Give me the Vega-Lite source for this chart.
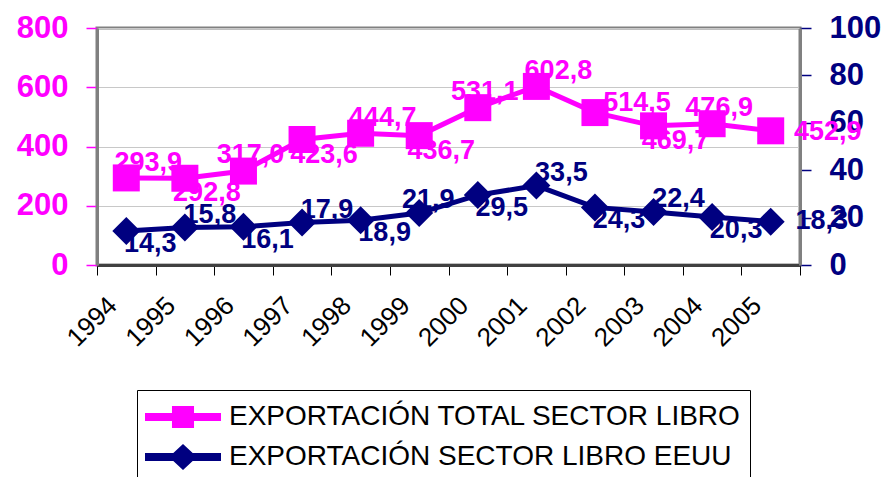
{
  "$schema": "https://vega.github.io/schema/vega-lite/v6.json",
  "width": 703,
  "height": 237,
  "autosize": {"type": "none"},
  "padding": {"left": 97, "top": 28, "right": 90, "bottom": 212},
  "background": "white",
  "config": {
    "locale": {"number": {"decimal": ",", "thousands": ".", "grouping": [3], "currency": ["", " €"]}},
    "view": {"stroke": "#808080", "strokeWidth": 3},
    "font": "Liberation Sans",
    "style": {"guide-label": {"fontWeight": 700, "font": "Liberation Sans"}},
    "axis": {"labelFontWeight": 700}
  },
  "data": {
    "values": [
      {"year": "1994", "series": "EXPORTACIÓN TOTAL SECTOR LIBRO", "value": 293.9},
      {"year": "1995", "series": "EXPORTACIÓN TOTAL SECTOR LIBRO", "value": 292.8},
      {"year": "1996", "series": "EXPORTACIÓN TOTAL SECTOR LIBRO", "value": 317.0},
      {"year": "1997", "series": "EXPORTACIÓN TOTAL SECTOR LIBRO", "value": 423.6},
      {"year": "1998", "series": "EXPORTACIÓN TOTAL SECTOR LIBRO", "value": 444.7},
      {"year": "1999", "series": "EXPORTACIÓN TOTAL SECTOR LIBRO", "value": 436.7},
      {"year": "2000", "series": "EXPORTACIÓN TOTAL SECTOR LIBRO", "value": 531.1},
      {"year": "2001", "series": "EXPORTACIÓN TOTAL SECTOR LIBRO", "value": 602.8},
      {"year": "2002", "series": "EXPORTACIÓN TOTAL SECTOR LIBRO", "value": 514.5},
      {"year": "2003", "series": "EXPORTACIÓN TOTAL SECTOR LIBRO", "value": 469.7},
      {"year": "2004", "series": "EXPORTACIÓN TOTAL SECTOR LIBRO", "value": 476.9},
      {"year": "2005", "series": "EXPORTACIÓN TOTAL SECTOR LIBRO", "value": 452.9},
      {"year": "1994", "series": "EXPORTACIÓN SECTOR LIBRO EEUU", "value": 14.3},
      {"year": "1995", "series": "EXPORTACIÓN SECTOR LIBRO EEUU", "value": 15.8},
      {"year": "1996", "series": "EXPORTACIÓN SECTOR LIBRO EEUU", "value": 16.1},
      {"year": "1997", "series": "EXPORTACIÓN SECTOR LIBRO EEUU", "value": 17.9},
      {"year": "1998", "series": "EXPORTACIÓN SECTOR LIBRO EEUU", "value": 18.9},
      {"year": "1999", "series": "EXPORTACIÓN SECTOR LIBRO EEUU", "value": 21.9},
      {"year": "2000", "series": "EXPORTACIÓN SECTOR LIBRO EEUU", "value": 29.5},
      {"year": "2001", "series": "EXPORTACIÓN SECTOR LIBRO EEUU", "value": 33.5},
      {"year": "2002", "series": "EXPORTACIÓN SECTOR LIBRO EEUU", "value": 24.3},
      {"year": "2003", "series": "EXPORTACIÓN SECTOR LIBRO EEUU", "value": 22.4},
      {"year": "2004", "series": "EXPORTACIÓN SECTOR LIBRO EEUU", "value": 20.3},
      {"year": "2005", "series": "EXPORTACIÓN SECTOR LIBRO EEUU", "value": 18.3}
    ]
  },
  "encoding": {
    "x": {
      "field": "year", "type": "ordinal",
      "scale": {"type": "band", "paddingInner": 0, "paddingOuter": 0},
      "axis": {
        "title": null, "labelAngle": -45, "labelFont": "Liberation Sans", "labelFontSize": 26, "labelFontWeight": 400,
        "labelColor": "black", "labelPadding": 26, "labelOffset": -14, "tickBand": "extent",
        "tickSize": 10, "tickColor": "black", "tickWidth": 1, "domainColor": "#404040", "domainWidth": 3,
        "grid": false, "labelAlign": "right", "labelBaseline": "middle"
      }
    }
  },
  "layer": [
    {
      "transform": [{"filter": "datum.series === 'EXPORTACIÓN TOTAL SECTOR LIBRO'"}],
      "encoding": {
        "y": {
          "field": "value", "type": "quantitative",
          "scale": {"domain": [0, 800], "nice": false},
          "axis": {
            "title": null, "orient": "left", "values": [0, 200, 400, 600, 800], "format": "d",
            "labelFont": "Liberation Sans", "labelFontSize": 31, "labelFontWeight": 700, "labelColor": "#FF00FF",
            "labelPadding": 18, "tickSize": 11, "tickColor": "#FF00FF", "tickWidth": 1.5,
            "domainColor": "#808080", "domainWidth": 3,
            "grid": true, "gridColor": "#c8c8c8", "gridWidth": 1
          }
        }
      },
      "layer": [
        {"mark": {"type": "line", "color": "#FF00FF", "strokeWidth": 5}},
        {"mark": {"type": "point", "shape": "square", "filled": true, "opacity": 1, "color": "#FF00FF", "size": 729}},
        {
          "transform": [{"filter": {"field": "year", "oneOf": ["1994", "1998", "2001"]}}],
          "mark": {"type": "text", "color": "#FF00FF", "fontSize": 27, "fontWeight": "bold", "font": "Liberation Sans", "dx": 22, "dy": -15},
          "encoding": {"text": {"field": "value", "type": "quantitative", "format": ".1f"}}
        },
        {
          "transform": [{"filter": {"field": "year", "oneOf": ["1996", "2000", "2004"]}}],
          "mark": {"type": "text", "color": "#FF00FF", "fontSize": 27, "fontWeight": "bold", "font": "Liberation Sans", "dx": 7, "dy": -16},
          "encoding": {"text": {"field": "value", "type": "quantitative", "format": ".1f"}}
        },
        {
          "transform": [{"filter": {"field": "year", "oneOf": ["2002"]}}],
          "mark": {"type": "text", "color": "#FF00FF", "fontSize": 27, "fontWeight": "bold", "font": "Liberation Sans", "dx": 42, "dy": -10},
          "encoding": {"text": {"field": "value", "type": "quantitative", "format": ".1f"}}
        },
        {
          "transform": [{"filter": {"field": "year", "oneOf": ["1995", "1997", "1999", "2003"]}}],
          "mark": {"type": "text", "color": "#FF00FF", "fontSize": 27, "fontWeight": "bold", "font": "Liberation Sans", "dx": 22, "dy": 15},
          "encoding": {"text": {"field": "value", "type": "quantitative", "format": ".1f"}}
        },
        {
          "transform": [{"filter": {"field": "year", "oneOf": ["2005"]}}],
          "mark": {"type": "text", "color": "#FF00FF", "fontSize": 27, "fontWeight": "bold", "font": "Liberation Sans", "dx": 57, "dy": 1},
          "encoding": {"text": {"field": "value", "type": "quantitative", "format": ".1f"}}
        }
      ]
    },
    {
      "transform": [{"filter": "datum.series === 'EXPORTACIÓN SECTOR LIBRO EEUU'"}],
      "encoding": {
        "y": {
          "field": "value", "type": "quantitative",
          "scale": {"domain": [0, 100], "nice": false},
          "axis": {
            "title": null, "orient": "right", "values": [0, 20, 40, 60, 80, 100], "format": "d",
            "labelFont": "Liberation Sans", "labelFontSize": 31, "labelFontWeight": 700, "labelColor": "#000080",
            "labelPadding": 18, "tickSize": 11, "tickColor": "#000080", "tickWidth": 1.5,
            "domainColor": "#808080", "domainWidth": 3, "grid": false
          }
        }
      },
      "layer": [
        {"mark": {"type": "line", "color": "#000080", "strokeWidth": 5}},
        {"mark": {"type": "point", "shape": "diamond", "filled": true, "opacity": 1, "color": "#000080", "size": 784}},
        {
          "transform": [{"filter": {"field": "year", "oneOf": ["1995", "1997", "2001", "2003"]}}],
          "mark": {"type": "text", "color": "#000080", "fontSize": 27, "fontWeight": "bold", "font": "Liberation Sans", "dx": 25, "dy": -13},
          "encoding": {"text": {"field": "value", "type": "quantitative", "format": ".1f"}}
        },
        {
          "transform": [{"filter": {"field": "year", "oneOf": ["1999"]}}],
          "mark": {"type": "text", "color": "#000080", "fontSize": 27, "fontWeight": "bold", "font": "Liberation Sans", "dx": 9, "dy": -13},
          "encoding": {"text": {"field": "value", "type": "quantitative", "format": ".1f"}}
        },
        {
          "transform": [{"filter": {"field": "year", "oneOf": ["1994", "1996", "1998", "2000", "2002", "2004"]}}],
          "mark": {"type": "text", "color": "#000080", "fontSize": 27, "fontWeight": "bold", "font": "Liberation Sans", "dx": 24, "dy": 13},
          "encoding": {"text": {"field": "value", "type": "quantitative", "format": ".1f"}}
        },
        {
          "transform": [{"filter": {"field": "year", "oneOf": ["2005"]}}],
          "mark": {"type": "text", "color": "#000080", "fontSize": 27, "fontWeight": "bold", "font": "Liberation Sans", "dx": 51, "dy": -1},
          "encoding": {"text": {"field": "value", "type": "quantitative", "format": ".1f"}}
        }
      ]
    },
    {
      "mark": {"type": "point", "filled": true, "opacity": 0},
      "encoding": {
        "color": {
          "field": "series", "type": "nominal",
          "scale": {"domain": ["EXPORTACIÓN TOTAL SECTOR LIBRO", "EXPORTACIÓN SECTOR LIBRO EEUU"], "range": ["#FF00FF", "#000080"]},
          "legend": {
            "orient": "none", "legendX": 40, "legendY": 362, "title": null,
            "strokeColor": "black", "fillColor": "white", "padding": 8,
            "labelFont": "Liberation Sans", "labelFontSize": 28, "labelFontWeight": 400, "labelColor": "black", "labelLimit": 800,
            "symbolSize": 1444, "labelOffset": 46, "rowPadding": 7, "symbolOpacity": 1, "symbolStrokeWidth": 0
          }
        },
        "shape": {
          "field": "series", "type": "nominal",
          "scale": {
            "domain": ["EXPORTACIÓN TOTAL SECTOR LIBRO", "EXPORTACIÓN SECTOR LIBRO EEUU"],
            "range": [
              "M-1,-0.21H0.42V-0.58H1.58V-0.21H3V0.21H1.58V0.58H0.42V0.21H-1Z",
              "M-1,-0.21H0.49L1,-0.68L1.51,-0.21H3V0.21H1.51L1,0.68L0.49,0.21H-1Z"
            ]
          },
          "legend": {
            "orient": "none", "legendX": 40, "legendY": 362, "title": null,
            "strokeColor": "black", "fillColor": "white", "padding": 8,
            "labelFont": "Liberation Sans", "labelFontSize": 28, "labelFontWeight": 400, "labelColor": "black", "labelLimit": 800,
            "symbolSize": 1444, "labelOffset": 46, "rowPadding": 7, "symbolOpacity": 1, "symbolStrokeWidth": 0
          }
        }
      }
    }
  ],
  "resolve": {"scale": {"y": "independent"}}
}
